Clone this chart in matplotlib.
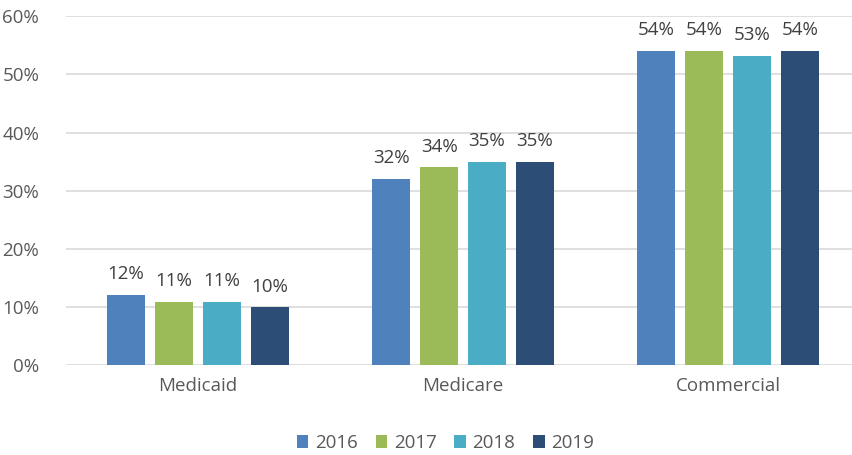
import matplotlib
matplotlib.use("Agg")
import matplotlib.pyplot as plt
import numpy as np

categories = ["Medicaid", "Medicare", "Commercial"]
years = ["2016", "2017", "2018", "2019"]
values_2016 = [12.1, 32.0, 54.0]
values_2017 = [10.9, 34.0, 54.0]
values_2018 = [10.9, 35.0, 53.2]
values_2019 = [9.9, 35.0, 54.0]
labels_2016 = ["12%", "32%", "54%"]
labels_2017 = ["11%", "34%", "54%"]
labels_2018 = ["11%", "35%", "53%"]
labels_2019 = ["10%", "35%", "54%"]

series = [values_2016, values_2017, values_2018, values_2019]
series_labels = [labels_2016, labels_2017, labels_2018, labels_2019]
colors = ["#4F81BD", "#9BBB59", "#4BACC6", "#2C4D75"]

plt.rcParams["font.family"] = ["Open Sans", "DejaVu Sans"]
text_color = "#595959"
fs = 13.5

fig = plt.figure(figsize=(8.52, 4.55), dpi=100)
ax = fig.add_axes([0.077, 0.198, 0.933, 0.766])

x = np.arange(len(categories))
width = 0.143
step = 0.181
for i, (vals, labs) in enumerate(zip(series, series_labels)):
    pos = x + (i - 1.5) * step
    bars = ax.bar(pos, vals, width, color=colors[i], label=years[i], zorder=3)
    for b, lab in zip(bars, labs):
        ax.annotate(lab, (b.get_x() + b.get_width() / 2, b.get_height()),
                    xytext=(0, 8.5), textcoords="offset points",
                    ha="center", va="bottom", fontsize=fs, color="#404040")

ax.set_xlim(-0.5, 2.5)
ax.set_ylim(0, 60)
ax.set_yticks(range(0, 61, 10))
ax.set_yticklabels([f"{v}%" for v in range(0, 61, 10)])
ax.set_xticks(x)
ax.set_xticklabels(categories)
ax.grid(axis="y", color="#D9D9D9", linewidth=1.2, zorder=0)
for s in ["top", "right", "left", "bottom"]:
    ax.spines[s].set_visible(False)
ax.tick_params(axis="both", length=0, labelsize=fs, labelcolor=text_color)
ax.tick_params(axis="y", pad=19)
ax.tick_params(axis="x", pad=9)

ax.legend(loc="upper center", bbox_to_anchor=(0.478, -0.15), ncol=4, frameon=False,
          fontsize=fs, handlelength=0.62, handleheight=0.62, handletextpad=0.35,
          columnspacing=0.95, labelcolor=text_color)

fig.savefig("out.png", dpi=100)
